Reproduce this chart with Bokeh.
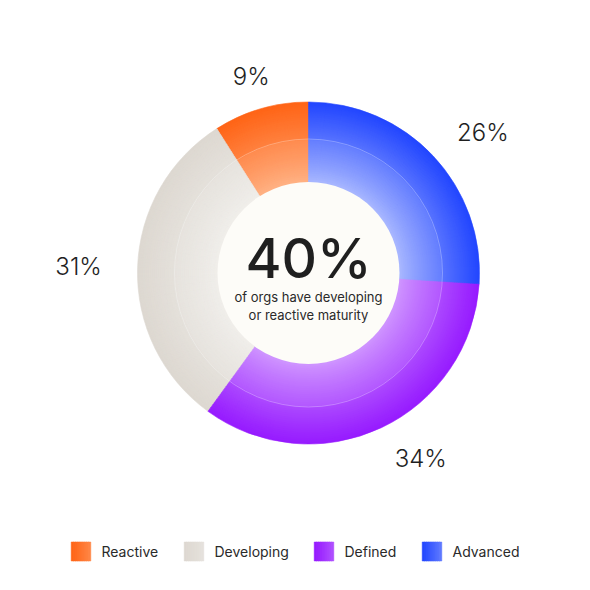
import numpy as np
from bokeh.plotting import figure
from bokeh.models import Range1d, ColumnDataSource
from bokeh.embed import file_html
from bokeh.resources import INLINE
from bokeh.core.properties import value

# ---- data ----
categories = ["Reactive", "Developing", "Defined", "Advanced"]
shares = [9, 31, 34, 26]
pct_labels = ["9%", "31%", "34%", "26%"]
center_value = "40%"
center_lines = ["of orgs have developing", "or reactive maturity"]

# ---- style ----
outer_cols = ["#ff6416", "#ddd8d1", "#961aff", "#2246ff"]
inner_cols = ["#ffab7a", "#efede9", "#cb8cff", "#a2b2ff"]
FONT = "Inter"
FONT_MED = "'Inter Medium', 'Inter SemiBold', Inter"
FONT_LIGHT = "'Inter Light', Inter"

def hex2rgb(h):
    h = h.lstrip("#")
    return np.array([int(h[i:i + 2], 16) for i in (0, 2, 4)], dtype=float)

def rgb2hex(c):
    c = np.clip(np.round(c), 0, 255).astype(int)
    return "#%02x%02x%02x" % tuple(c)

def mix(a, b, t):
    return a * (1 - t) + b * t

W = H = 574
p = figure(width=W, height=H, x_range=Range1d(0, 574), y_range=Range1d(16, 590),
           output_backend="svg", toolbar_location=None, min_border=0)
p.axis.visible = False
p.grid.visible = False
p.outline_line_color = None
p.background_fill_color = "#ffffff"
p.border_fill_color = "#ffffff"

cx, cy = 308, 590 - 272.5
r_in, r_mid, r_out = 91, 134, 171

# angles (anticlockwise from top, in legend order)
tot = float(sum(shares))
starts, ends = [], []
a = np.pi / 2
for s in shares:
    starts.append(a)
    a += 2 * np.pi * s / tot
    ends.append(a)

# gradient rings drawn as overlapping wedges from outside in
n = 40
xs, ys, rs, sa, ea, cols = [], [], [], [], [], []
white = np.array([255.0, 255.0, 255.0])
for k in range(n, 0, -1):
    r1 = r_in + (r_out - r_in) * k / n
    t = (k - 0.5) / n  # 0 inner -> 1 outer
    for i in range(len(shares)):
        c = mix(hex2rgb(inner_cols[i]), hex2rgb(outer_cols[i]), t ** 0.85)
        if r1 <= r_mid + 0.01:
            c = mix(c, white, 0.08)
        xs.append(cx); ys.append(cy); rs.append(r1)
        sa.append(starts[i]); ea.append(ends[i]); cols.append(rgb2hex(c))
src = ColumnDataSource(dict(x=xs, y=ys, r=rs, sa=sa, ea=ea, c=cols))
p.wedge(x="x", y="y", radius="r", start_angle="sa", end_angle="ea", direction="anticlock",
        fill_color="c", line_color="c", line_width=0.6, source=src)

# faint ring boundary
p.circle(x=[cx], y=[cy], radius=r_mid, fill_color=None, line_color="#ffffff",
         line_alpha=0.3, line_width=1)

# center disc
p.circle(x=[cx], y=[cy], radius=r_in, fill_color="#fdfcf8", line_color=None)

# center texts
p.text(x=[cx], y=[cy + 15], text=[center_value], text_font=value(FONT_MED),
       text_font_size="55px", text_font_style="normal", text_color="#1f1f1f",
       text_align="center", text_baseline="middle")
p.text(x=[cx, cx], y=[cy - 23.5, cy - 42], text=center_lines, text_font=value(FONT),
       text_font_size="13px", text_color="#2a2a2a", text_align="center",
       text_baseline="middle")

# percentage labels (outside, pushed horizontally away from the ring)
mids = [(s + e) / 2 for s, e in zip(starts, ends)]
lr = 205
lx, ly = [], []
for mdl in mids:
    cs = np.cos(mdl)
    push = 25 * np.sign(cs) if abs(cs) > 0.3 else 0
    lx.append(cx + lr * cs + push)
    ly.append(cy + lr * np.sin(mdl))
p.text(x=lx, y=ly, text=pct_labels, text_font=value(FONT_LIGHT), text_font_size="24px",
       text_color="#1f1f1f", text_align="center", text_baseline="middle")

# legend
leg_x = [71, 184, 314, 422]
leg_y = 590 - 551
sq = 19
m = 10
rx, ry, rcol = [], [], []
for i in range(len(categories)):
    for j in range(m):
        t = j / (m - 1)
        c = mix(hex2rgb(outer_cols[i]), hex2rgb(inner_cols[i]), 0.45 * t)
        rx.append(leg_x[i] + sq * (j + 0.5) / m)
        ry.append(leg_y)
        rcol.append(rgb2hex(c))
p.rect(x=rx, y=ry, width=sq / m + 0.6, height=sq, fill_color=rcol, line_color=rcol,
       line_width=0.5)
p.text(x=[x + sq + 11 for x in leg_x], y=[leg_y] * 4, text=categories,
       text_font=value(FONT), text_font_size="14px", text_color="#2a2a2a",
       text_align="left", text_baseline="middle")

open("out.html", "w").write(file_html(p, INLINE))
